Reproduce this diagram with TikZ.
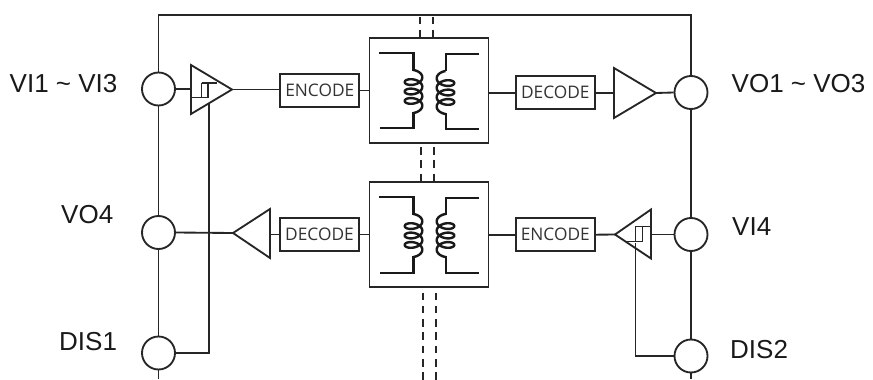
\documentclass[tikz,border=0pt]{standalone}
\usepackage{fontspec}
\setmainfont{Liberation Sans}
\newfontfamily\boxfont{Open Sans}
\tikzset{
  wire/.style={draw=black!85,line width=1.85pt},
  port/.style={circle,draw=black!85,line width=1.85pt,minimum size=33pt,inner sep=0pt,fill=white},
  codec/.style={rectangle,draw=black!85,line width=1.85pt,minimum width=79pt,minimum height=33pt,inner sep=0pt,fill=white,font=\boxfont\fontsize{17.3}{20}\selectfont,text=black!80},
  xfbox/.style={rectangle,draw=black!85,line width=1.85pt,minimum width=119pt,minimum height=105pt,inner sep=0pt,fill=white},
  winding/.style={draw=black!90,line width=2.4pt,line join=miter},
  coilw/.style={draw=black!90,line width=2.4pt},
  schmitt/.style={draw=black!85,line width=1.5pt},
  isol/.style={draw=black!85,line width=1.7pt,dash pattern=on 7.5pt off 5.8pt},
  lab/.style={font=\fontsize{26}{30}\selectfont,inner sep=0pt,text=black!90,anchor=base west}
}
\newcommand{\coil}[3]{% centre x, top y, direction
  \draw[coilw] plot[smooth,domain=0:1260,samples=130,variable=\t]
    ({#1+#3*8.8*sin(\t)},{#2+5+(\t/1260)*33-5*cos(\t)});
}
\begin{document}
\begin{tikzpicture}[x=1pt,y=-1pt]
\useasboundingbox (0,0) rectangle (873,380);
% frame anchors
\coordinate (tl) at (158.5,15);
\coordinate (tr) at (691,15);
\coordinate (bl) at (158.5,379);
\coordinate (br) at (691,379);
% ports
\node[port] (p1) at (158.5,89) {};
\node[port] (p2) at (158.5,232.5) {};
\node[port] (p3) at (158.5,353) {};
\node[port] (p4) at (691,92.5) {};
\node[port] (p5) at (691,234.5) {};
\node[port] (p6) at (691,356) {};
% frame
\draw[wire] (p1.north) -- (tl) -- (tr) -- (p4.north);
\draw[wire] (p1.south) -- (p2.north);
\draw[wire] (p2.south) -- (p3.north);
\draw[wire] (p3.south) -- (bl);
\draw[wire] (p4.south) -- (p5.north);
\draw[wire] (p5.south) -- (p6.north);
\draw[wire] (p6.south) -- (br);
% isolation barriers
\node[xfbox] (x1) at (429,90.5) {};
\node[xfbox] (x2) at (429,234.5) {};
\coordinate (d1) at (420,16.5); \coordinate (d2) at (420,38);
\coordinate (d3) at (433,16.5); \coordinate (d4) at (433,38);
\coordinate (d5) at (421,147); \coordinate (d6) at (421,181.5);
\coordinate (d7) at (434.3,147); \coordinate (d8) at (434.3,181.5);
\coordinate (d9) at (422.7,292.5); \coordinate (d10) at (422.7,380);
\coordinate (d11) at (435.7,292.5); \coordinate (d12) at (435.7,380);
\draw[isol] (d1) -- (d2); \draw[isol] (d3) -- (d4);
\draw[isol] (d5) -- (d6); \draw[isol] (d7) -- (d8);
\draw[isol] (d9) -- (d10); \draw[isol] (d11) -- (d12);
% codecs
\node[codec] (e1) at (319.8,90.5) {ENCODE};
\node[codec] (c1) at (555.3,92.8) {DECODE};
\node[codec] (c2) at (319.5,234.5) {DECODE};
\node[codec] (e2) at (555.3,234.7) {ENCODE};
% triangles
\coordinate (t1a) at (191,65); \coordinate (t1b) at (191,114); \coordinate (t1t) at (232,89.5);
\coordinate (t2a) at (614,68); \coordinate (t2b) at (614,118); \coordinate (t2t) at (656,93);
\coordinate (t3a) at (270,209); \coordinate (t3b) at (270,258); \coordinate (t3t) at (233,233);
\coordinate (t4a) at (651,209.5); \coordinate (t4b) at (651,258.5); \coordinate (t4t) at (615,234.5);
\draw[wire,line join=miter] (t1a) -- (t1t) -- (t1b) -- cycle;
\draw[wire,line join=miter] (t2a) -- (t2t) -- (t2b) -- cycle;
\draw[wire,line join=miter] (t3a) -- (t3t) -- (t3b) -- cycle;
\draw[wire,line join=miter] (t4a) -- (t4t) -- (t4b) -- cycle;
% signal wires
\draw[wire] (p1.east) -- (t1a |- p1.east);
\draw[wire] (t1t) -- (e1.west |- t1t);
\draw[wire] (e1.east) -- (x1.west |- e1.east);
\draw[wire] (x1.east |- c1.west) -- (c1.west);
\draw[wire] (c1.east) -- (t2a |- c1.east);
\draw[wire] (t2t) -- (p4.west);
\draw[wire] (p2.east) -- (t3t);
\draw[wire] (t3a |- c2.west) -- (c2.west);
\draw[wire] (c2.east) -- (x2.west |- c2.east);
\draw[wire] (x2.east |- e2.west) -- (e2.west);
\draw[wire] (e2.east) -- (t4t);
\draw[wire] (t4a |- p5.west) -- (p5.west);
% enable wires
\coordinate (en1) at (208.8,103);
\coordinate (en2) at (635.5,243);
\draw[wire] (en1) -- (en1 |- p3.east) -- (p3.east);
\draw[wire] (en2) -- (en2 |- p6.west) -- (p6.west);
% schmitt symbols
\draw[schmitt] (192,97.3) -- (208,97.3) -- (208,83) -- (217,83);
\draw[schmitt] (201.7,83) -- (208,83);
\draw[schmitt] (201.7,97.3) -- (201.7,83);
\draw[schmitt] (650.7,226.7) -- (635.7,226.7) -- (635.7,241.7) -- (626.7,241.7);
\draw[schmitt] (635.7,241.7) -- (642.3,241.7) -- (642.3,226.7);
% transformer windings
\draw[winding] (379,53) -- (413.5,53) -- (413.5,71);
\draw[winding] (413.5,112) -- (413.5,128) -- (380,128);
\draw[winding] (479,54) -- (446,54) -- (446,71);
\draw[winding] (446,113) -- (446,129) -- (479,129);
\coil{413.5}{70}{1}
\coil{445.5}{71}{-1}
\draw[winding] (379,197) -- (413.5,197) -- (413.5,215);
\draw[winding] (413.5,256) -- (413.5,273) -- (380,273);
\draw[winding] (479,198) -- (446,198) -- (446,215);
\draw[winding] (446,256) -- (446,273) -- (479,273);
\coil{413.5}{214}{1}
\coil{445.5}{214}{-1}
% labels
\node[lab] (l1) at (9.5,92) {VI1 \textasciitilde{} VI3};
\node[lab] (l2) at (731.5,92) {VO1 \textasciitilde{} VO3};
\node[lab] (l3) at (61,223) {VO4};
\node[lab] (l4) at (732,235.5) {VI4};
\node[lab] (l5) at (59,350) {DIS1};
\node[lab] (l6) at (730,358.5) {DIS2};
\end{tikzpicture}
\end{document}
